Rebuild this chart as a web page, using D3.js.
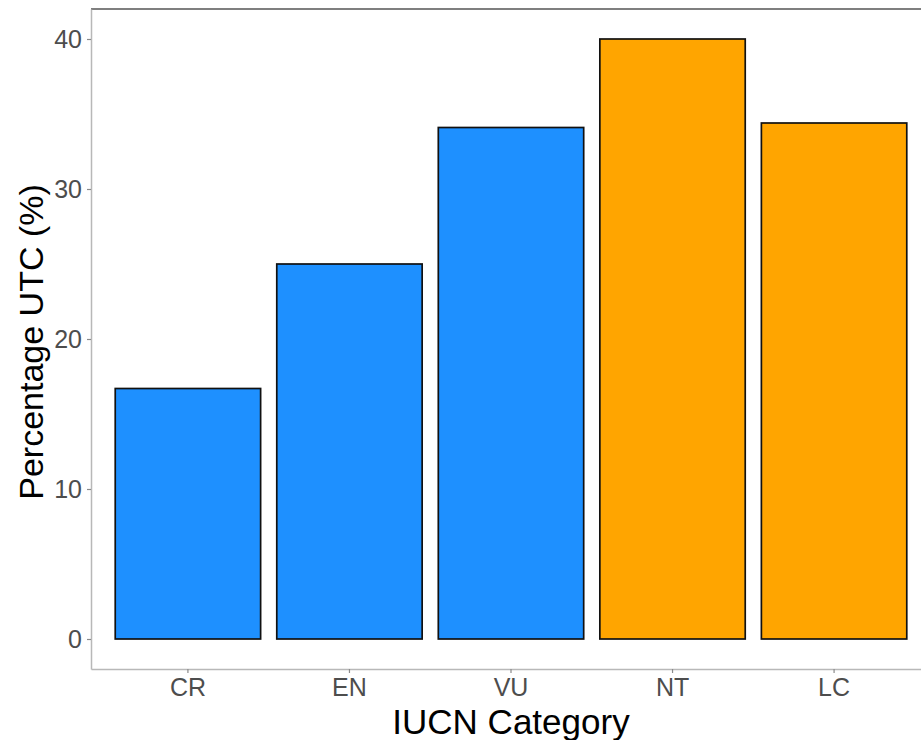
<!DOCTYPE html>
<html>
<head>
<meta charset="utf-8">
<script src="https://cdn.jsdelivr.net/npm/d3@7"></script>
<style>
  body { margin: 0; background: #fff; }
  svg { font-family: "Liberation Sans", Arial, sans-serif; }
</style>
</head>
<body>
<svg id="chart" width="921" height="740"></svg>
<script>
const categories = ["CR", "EN", "VU", "NT", "LC"];
const percentUTC = [16.7, 25.0, 34.1, 40.0, 34.4];
const fillColors = ["#1E90FF", "#1E90FF", "#1E90FF", "#FFA500", "#FFA500"];
const yTicks = [0, 10, 20, 30, 40];

const svg = d3.select("#chart");
const panel = {left: 91, top: 9, right: 931, bottom: 669};

const x = d3.scaleBand()
    .domain(categories)
    .range([panel.left, panel.right])
    .paddingInner(0.1)
    .paddingOuter(0.15);

const y = d3.scaleLinear()
    .domain([-2, 42])
    .range([panel.bottom, panel.top]);

// top border of the panel
svg.append("line")
    .attr("x1", panel.left).attr("x2", panel.right)
    .attr("y1", panel.top).attr("y2", panel.top)
    .attr("stroke", "#555").attr("stroke-width", 1.3);

const data = categories.map((c, i) => ({cat: c, val: percentUTC[i], fill: fillColors[i]}));

svg.selectAll(".bar")
  .data(data)
  .enter().append("rect")
    .attr("class", "bar")
    .attr("x", d => x(d.cat))
    .attr("y", d => y(d.val))
    .attr("width", x.bandwidth())
    .attr("height", d => y(0) - y(d.val))
    .attr("fill", d => d.fill)
    .attr("stroke", "#111")
    .attr("stroke-width", 1.7);

const yAxis = svg.append("g")
    .attr("transform", "translate(" + panel.left + ",0)")
    .call(d3.axisLeft(y).tickValues(yTicks).tickSize(4).tickSizeOuter(0).tickPadding(5));

const xAxis = svg.append("g")
    .attr("transform", "translate(0," + panel.bottom + ")")
    .call(d3.axisBottom(x).tickSize(4).tickSizeOuter(0).tickPadding(5));

[yAxis, xAxis].forEach(ax => {
  ax.select(".domain").attr("stroke", "#b8b8b8").attr("stroke-width", 1.5);
  ax.selectAll(".tick line").attr("stroke", "#8a8a8a").attr("stroke-width", 1.2);
  ax.selectAll(".tick text")
      .attr("fill", "#4d4d4d")
      .style("font-size", "25px")
      .style("font-family", "'Liberation Sans', Arial, sans-serif");
});

svg.append("text")
    .attr("x", (panel.left + panel.right) / 2)
    .attr("y", 734)
    .attr("text-anchor", "middle")
    .style("font-size", "35px")
    .attr("fill", "#000")
    .text("IUCN Category");

svg.append("text")
    .attr("transform", "translate(43," + (y(20) + 3) + ") rotate(-90)")
    .attr("text-anchor", "middle")
    .style("font-size", "34px")
    .attr("fill", "#000")
    .text("Percentage UTC (%)");
</script>
</body>
</html>
